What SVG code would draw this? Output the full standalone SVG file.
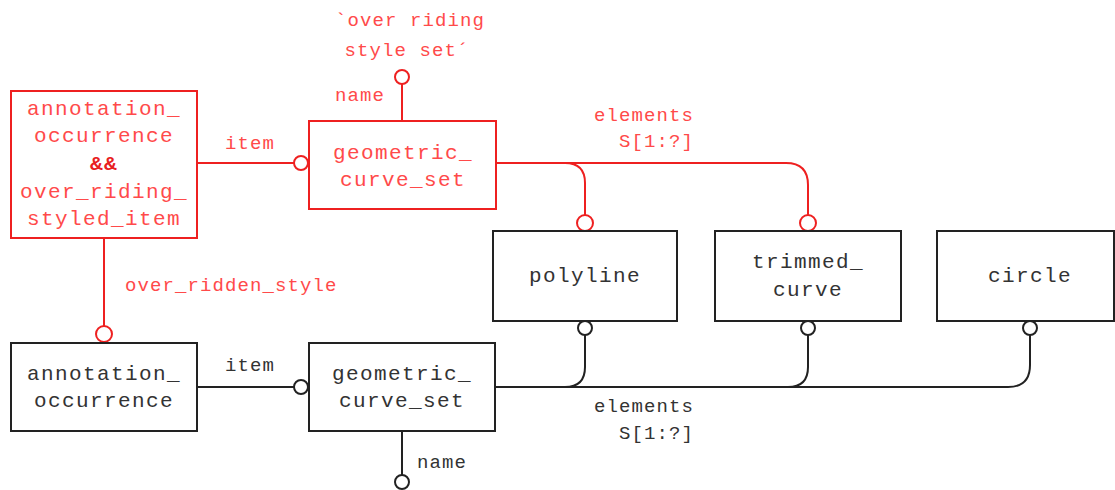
<svg xmlns="http://www.w3.org/2000/svg" width="1115" height="490" viewBox="0 0 1115 490">
<style>
.box{fill:#fff;stroke-width:2}
.r{stroke:#ee2020}
.k{stroke:#222}
.nt{font-family:"Liberation Mono","DejaVu Sans Mono",monospace;font-size:21px;letter-spacing:1.4px;text-anchor:middle}
.lb{font-family:"Liberation Mono","DejaVu Sans Mono",monospace;font-size:19px;letter-spacing:1.1px}
.rt{fill:#ff4a4a}
.kt{fill:#333}
.ln{fill:none;stroke-width:2}
.c{fill:#fff;stroke-width:2}
</style>
<g id="connectors">
<path class="ln r" d="M402 84 V121"/>
<circle class="c r" cx="402" cy="77" r="7"/>
<path class="ln r" d="M197 163 H294"/>
<circle class="c r" cx="301" cy="163" r="7"/>
<path class="ln r" d="M496 163 H565 Q585 163 585 183 V215"/>
<path class="ln r" d="M565 163 H786 Q808 163 808 185 V215"/>
<circle class="c r" cx="585" cy="223" r="8"/>
<circle class="c r" cx="808" cy="223" r="8"/>
<path class="ln r" d="M104 238 V327"/>
<circle class="c r" cx="104" cy="334" r="8"/>
<path class="ln k" d="M197 387 H294"/>
<circle class="c k" cx="301" cy="387" r="7"/>
<path class="ln k" d="M495 387 H1008 Q1030 387 1030 365 V335"/>
<path class="ln k" d="M565 387 Q585 387 585 367 V335"/>
<path class="ln k" d="M788 387 Q808 387 808 367 V335"/>
<circle class="c k" cx="585" cy="328" r="7"/>
<circle class="c k" cx="808" cy="328" r="7"/>
<circle class="c k" cx="1030" cy="328" r="7"/>
<path class="ln k" d="M402 431 V475"/>
<circle class="c k" cx="402" cy="482" r="7"/>
<text class="lb rt" x="410" y="26" text-anchor="middle">`over riding</text>
<text class="lb rt" x="407" y="56" text-anchor="middle">style set´</text>
<text class="lb rt" x="335" y="101">name</text>
<text class="lb rt" x="225" y="149">item</text>
<text class="lb rt" x="694" y="121" text-anchor="end">elements</text>
<text class="lb rt" x="694" y="147" text-anchor="end">S[1:?]</text>
<text class="lb rt" x="125" y="291">over_ridden_style</text>
<text class="lb kt" x="225" y="371">item</text>
<text class="lb kt" x="694" y="412" text-anchor="end">elements</text>
<text class="lb kt" x="694" y="439" text-anchor="end">S[1:?]</text>
<text class="lb kt" x="417" y="468">name</text>
</g>
<g id="n_aoors">
<rect class="box r" x="11" y="91" width="186" height="147"/>
<text class="nt rt" x="104" y="115">annotation_</text>
<text class="nt rt" x="104" y="142">occurrence</text>
<text class="nt" x="104" y="170" fill="#e82020" font-weight="bold">&amp;&amp;</text>
<text class="nt rt" x="104" y="198">over_riding_</text>
<text class="nt rt" x="104" y="225">styled_item</text>
</g>
<g id="n_gcs_red">
<rect class="box r" x="309" y="121" width="187" height="88"/>
<text class="nt rt" x="403" y="159">geometric_</text>
<text class="nt rt" x="403" y="186">curve_set</text>
</g>
<g id="n_polyline">
<rect class="box k" x="493" y="231" width="184" height="90"/>
<text class="nt kt" x="585" y="282">polyline</text>
</g>
<g id="n_trimmed">
<rect class="box k" x="715" y="231" width="186" height="90"/>
<text class="nt kt" x="808" y="268">trimmed_</text>
<text class="nt kt" x="808" y="296">curve</text>
</g>
<g id="n_circle">
<rect class="box k" x="937" y="231" width="177" height="90"/>
<text class="nt kt" x="1030" y="282">circle</text>
</g>
<g id="n_ao">
<rect class="box k" x="11" y="343" width="186" height="88"/>
<text class="nt kt" x="104" y="380">annotation_</text>
<text class="nt kt" x="104" y="407">occurrence</text>
</g>
<g id="n_gcs">
<rect class="box k" x="309" y="343" width="186" height="88"/>
<text class="nt kt" x="402" y="380">geometric_</text>
<text class="nt kt" x="402" y="407">curve_set</text>
</g>
</svg>
